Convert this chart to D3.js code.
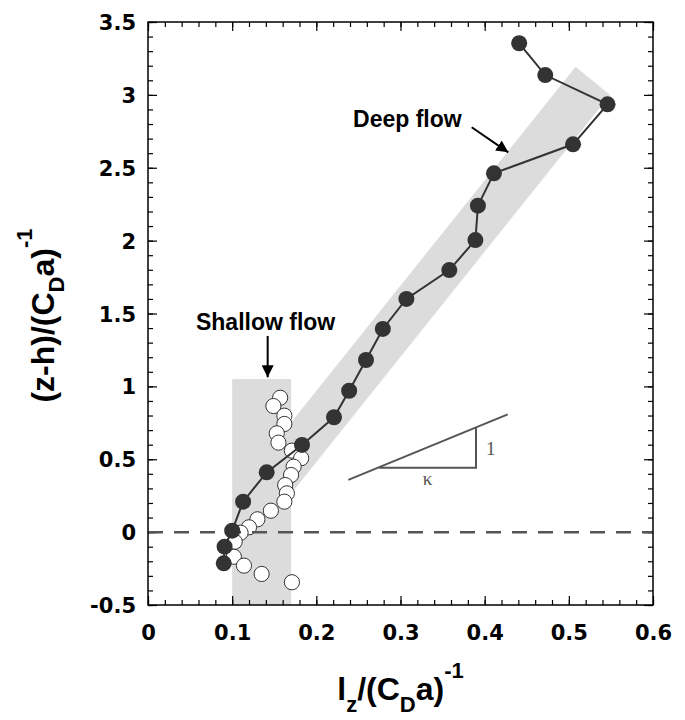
<!DOCTYPE html>
<html lang="en">
<head>
    <meta charset="UTF-8">
    <title>Mixing length profile</title>
    <script src="https://d3js.org/d3.v7.min.js"></script>
    <style>
        html, body {
            margin: 0;
            background: #fff;
        }
        .tick text {
            font-family: "DejaVu Sans", sans-serif;
            font-weight: bold;
            font-size: 21px;
            fill: #000;
        }
        .axis path.domain {
            display: none;
        }
        .axis line {
            stroke: #000;
            stroke-width: 1.2;
        }
    </style>
</head>
<body>
<div class="chart"></div>

<script>

    // deep flow (filled)
    var deepX = [0.441, 0.472, 0.546, 0.505, 0.411, 0.392, 0.389, 0.358, 0.307, 0.279, 0.259, 0.239, 0.221, 0.183, 0.141, 0.113, 0.100, 0.091, 0.090];
    var deepY = [3.354, 3.136, 2.935, 2.661, 2.462, 2.240, 2.004, 1.798, 1.600, 1.394, 1.181, 0.970, 0.788, 0.598, 0.410, 0.209, 0.010, -0.100, -0.214];

    // shallow flow (open)
    var shallowX = [0.157, 0.149, 0.162, 0.162, 0.153, 0.155, 0.171, 0.182, 0.173, 0.170, 0.163, 0.165, 0.162, 0.146, 0.130, 0.120, 0.110, 0.103, 0.102, 0.114, 0.135, 0.171];
    var shallowY = [0.922, 0.865, 0.799, 0.742, 0.678, 0.614, 0.559, 0.507, 0.449, 0.392, 0.323, 0.266, 0.209, 0.147, 0.088, 0.033, -0.004, -0.066, -0.169, -0.230, -0.287, -0.344];

    var xTicks = [0, 0.1, 0.2, 0.3, 0.4, 0.5, 0.6];
    var yTicks = [-0.5, 0, 0.5, 1, 1.5, 2, 2.5, 3, 3.5];

    // grey guide shapes
    var bandX = [0.104, 0.508, 0.549, 0.145];
    var bandY = [0.277, 3.193, 3.0, 0.083];
    var boxX = [0.1, 0.17];
    var boxY = [-0.5, 1.05];

    // slope triangle (kappa)
    var slopeX = [0.238, 0.4274];
    var slopeY = [0.358, 0.808];
    var triX = [0.2748, 0.3897, 0.3897];
    var triY = [0.442, 0.442, 0.716];

    var width = 685, height = 720;
    var margin = {left: 148, right: 32, top: 22, bottom: 115};
    var w = width - margin.left - margin.right;
    var h = height - margin.top - margin.bottom;

    var x = d3.scaleLinear().domain([0, 0.6]).range([0, w]);
    var y = d3.scaleLinear().domain([-0.5, 3.5]).range([h, 0]);

    // plain hyphen for negatives, like the original
    var fmt = function (d) { return String(d); };

    var svg = d3.select('.chart').append('svg').attr('width', width).attr('height', height);
    var g = svg.append('g').attr('transform', 'translate(' + margin.left + ',' + margin.top + ')');

    var grey = '#dcdcdc';

    g.append('rect')
        .attr('x', x(boxX[0])).attr('width', x(boxX[1]) - x(boxX[0]))
        .attr('y', y(boxY[1])).attr('height', y(boxY[0]) - y(boxY[1]))
        .attr('fill', grey);

    g.append('polygon')
        .attr('points', bandX.map(function (d, i) { return x(d) + ',' + y(bandY[i]); }).join(' '))
        .attr('fill', grey);

    // axes: major + minor ticks, inward, on all four sides
    var minorX = d3.range(0, 0.6001, 0.02);
    var minorY = d3.range(-0.5, 3.5001, 0.1);

    g.append('g').attr('class', 'axis').attr('transform', 'translate(0,' + h + ')')
        .call(d3.axisBottom(x).tickValues(minorX).tickSize(-5).tickFormat(''));
    g.append('g').attr('class', 'axis')
        .call(d3.axisTop(x).tickValues(minorX).tickSize(-5).tickFormat(''));
    g.append('g').attr('class', 'axis')
        .call(d3.axisLeft(y).tickValues(minorY).tickSize(-5).tickFormat(''));
    g.append('g').attr('class', 'axis').attr('transform', 'translate(' + w + ',0)')
        .call(d3.axisRight(y).tickValues(minorY).tickSize(-5).tickFormat(''));

    g.append('g').attr('class', 'axis').attr('transform', 'translate(0,' + h + ')')
        .call(d3.axisBottom(x).tickValues(xTicks).tickSize(-9).tickPadding(20).tickFormat(fmt));
    g.append('g').attr('class', 'axis')
        .call(d3.axisTop(x).tickValues(xTicks).tickSize(-9).tickFormat(''));
    g.append('g').attr('class', 'axis')
        .call(d3.axisLeft(y).tickValues(yTicks).tickSize(-9).tickPadding(12).tickFormat(fmt));
    g.append('g').attr('class', 'axis').attr('transform', 'translate(' + w + ',0)')
        .call(d3.axisRight(y).tickValues(yTicks).tickSize(-9).tickFormat(''));

    g.selectAll('.tick text').attr('dy', function () {
        return d3.select(this.parentNode.parentNode).attr('transform') ? '0.71em' : '0.36em';
    });

    // open circles
    g.selectAll('circle.open').data(shallowX).enter().append('circle')
        .attr('class', 'open')
        .attr('cx', function (d) { return x(d); })
        .attr('cy', function (d, i) { return y(shallowY[i]); })
        .attr('r', 7.6)
        .attr('fill', '#fff')
        .attr('stroke', '#333')
        .attr('stroke-width', 1);

    // zero line
    g.append('line')
        .attr('x1', 0).attr('x2', w)
        .attr('y1', y(0)).attr('y2', y(0))
        .attr('stroke', '#555').attr('stroke-width', 2.5)
        .attr('stroke-dasharray', '15,11');

    var line = d3.line()
        .x(function (d) { return x(d); })
        .y(function (d, i) { return y(deepY[i]); });

    g.append('path').attr('d', line(deepX))
        .attr('fill', 'none').attr('stroke', '#333').attr('stroke-width', 2);

    g.selectAll('circle.deep').data(deepX).enter().append('circle')
        .attr('class', 'deep')
        .attr('cx', function (d) { return x(d); })
        .attr('cy', function (d, i) { return y(deepY[i]); })
        .attr('r', 8)
        .attr('fill', '#333');

    // slope triangle
    var tri = '#555';
    g.append('line')
        .attr('x1', x(slopeX[0])).attr('y1', y(slopeY[0]))
        .attr('x2', x(slopeX[1])).attr('y2', y(slopeY[1]))
        .attr('stroke', tri).attr('stroke-width', 2);
    g.append('polyline')
        .attr('points', triX.map(function (d, i) { return x(d) + ',' + y(triY[i]); }).join(' '))
        .attr('fill', 'none').attr('stroke', tri).attr('stroke-width', 2);
    g.append('text')
        .attr('x', x((triX[0] + triX[1]) / 2)).attr('y', y(triY[0]) + 17)
        .attr('text-anchor', 'middle')
        .style('font-family', '"Liberation Serif", serif').style('font-size', '19px').attr('fill', tri)
        .text('κ');
    g.append('text')
        .attr('x', x(triX[2]) + 10).attr('y', y((triY[1] + triY[2]) / 2) + 7)
        .attr('text-anchor', 'start')
        .style('font-family', '"Liberation Serif", serif').style('font-size', '19px').attr('fill', tri)
        .text('1');

    // annotations
    svg.append('defs').append('marker')
        .attr('id', 'arrow').attr('viewBox', '0 0 10 10')
        .attr('refX', 10).attr('refY', 5)
        .attr('markerWidth', 6).attr('markerHeight', 6)
        .attr('markerUnits', 'strokeWidth')
        .attr('orient', 'auto')
        .append('path').attr('d', 'M0,0 L10,5 L0,10 z').attr('fill', '#000');

    var annoFont = '"Liberation Sans", Arial, sans-serif';
    g.append('text').attr('x', x(0.2436)).attr('y', y(2.782))
        .style('font-family', annoFont).style('font-weight', 'bold').style('font-size', '23px')
        .text('Deep flow');
    g.append('line')
        .attr('x1', x(0.3846)).attr('y1', y(2.778))
        .attr('x2', x(0.428)).attr('y2', y(2.606))
        .attr('stroke', '#000').attr('stroke-width', 2)
        .attr('marker-end', 'url(#arrow)');

    g.append('text').attr('x', x(0.057)).attr('y', y(1.387))
        .style('font-family', annoFont).style('font-weight', 'bold').style('font-size', '23px')
        .text('Shallow flow');
    g.append('line')
        .attr('x1', x(0.1422)).attr('y1', y(1.346))
        .attr('x2', x(0.1422)).attr('y2', y(1.062))
        .attr('stroke', '#000').attr('stroke-width', 2)
        .attr('marker-end', 'url(#arrow)');

    // frame
    g.append('rect').attr('width', w).attr('height', h)
        .attr('fill', 'none').attr('stroke', '#000').attr('stroke-width', 1.5);

    // axis titles
    var xt = svg.append('text')
        .attr('x', margin.left + w / 2).attr('y', 700)
        .attr('text-anchor', 'middle')
        .style('font-family', annoFont).style('font-weight', 'bold').style('font-size', '32px');
    xt.append('tspan').text('l');
    xt.append('tspan').attr('dy', 12).style('font-size', '22px').text('z');
    xt.append('tspan').attr('dy', -12).text('/(C');
    xt.append('tspan').attr('dy', 12).style('font-size', '22px').text('D');
    xt.append('tspan').attr('dy', -12).text('a)');
    xt.append('tspan').attr('dy', -22).style('font-size', '22px').text('-1');

    var yt = svg.append('text')
        .attr('transform', 'translate(54,' + (margin.top + h / 2 + 2) + ') rotate(-90)')
        .attr('text-anchor', 'middle')
        .style('font-family', annoFont).style('font-weight', 'bold').style('font-size', '32px');
    yt.append('tspan').text('(z-h)/(C');
    yt.append('tspan').attr('dy', 10).style('font-size', '22px').text('D');
    yt.append('tspan').attr('dy', -10).text('a)');
    yt.append('tspan').attr('dy', -22).style('font-size', '22px').text('-1');

</script>
</body>
</html>
